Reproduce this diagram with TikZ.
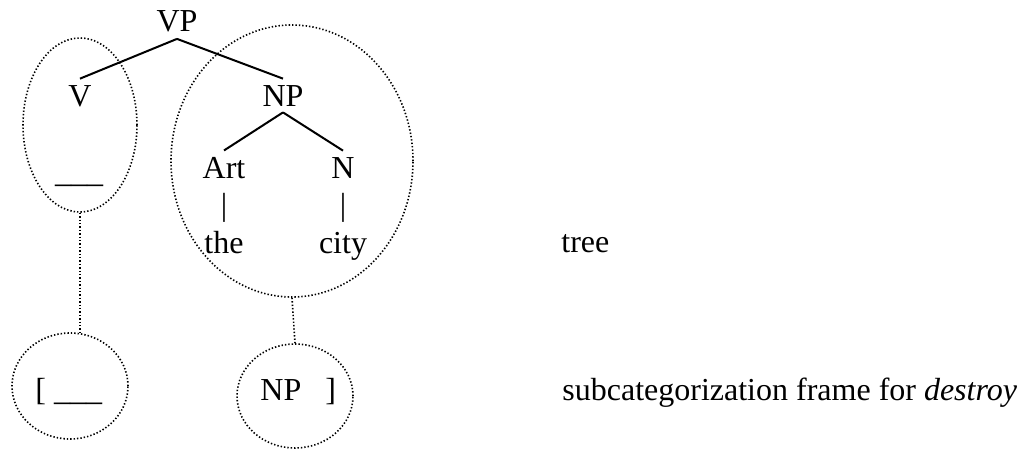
\documentclass[tikz,border=0pt]{standalone}
\usepackage{fontspec}
\setmainfont{Liberation Serif}
\usetikzlibrary{shapes.geometric}
\tikzset{
  cat/.style={anchor=base,inner sep=3pt},
  branch/.style={line width=1pt},
  ring/.style={ellipse,draw,inner sep=0pt,line width=0.8pt,dash pattern=on 0.7pt off 1pt},
  link/.style={line width=0.8pt,dash pattern=on 0.7pt off 1pt}
}
\begin{document}
\begin{tikzpicture}[x=0.5pt,y=-0.5pt,every node/.style={font=\fontsize{16}{19}\selectfont}]
\useasboundingbox (0,0) rectangle (1020,449);
\node[cat] (vp) at (177,32) {VP};
\node[cat] (v) at (80,106) {V};
\node[cat] (np) at (283,106) {NP};
\node[cat] (art) at (224,178) {Art};
\node[cat] (n) at (343,178) {N};
\node[cat] (gap) at (79,182) {\_\_\_};
\node[inner sep=0pt] (bara) at (224,207.5) {|};
\node[inner sep=0pt] (barn) at (343,207.5) {|};
\node[cat] (the) at (224,253) {the};
\node[cat] (city) at (343,253) {city};
\node[cat,anchor=base west,inner sep=0pt] (tree) at (561,252) {tree};
\node[cat,anchor=base west,inner sep=0pt] (frame) at (562,400) {subcategorization frame for \textit{destroy}};
\node[cat,anchor=base west,inner sep=0pt] (open) at (35,400) {[ \_\_\_};
\node[cat,anchor=base west,inner sep=0pt] (close) at (260,400) {NP\hspace{0.75em}]};
\node[ring,minimum width=57pt,minimum height=87pt] (vring) at (80,125) {};
\node[ring,minimum width=121pt,minimum height=136pt] (npring) at (292,161) {};
\node[ring,minimum width=58pt,minimum height=53pt] (vslot) at (70,386) {};
\node[ring,minimum width=58pt,minimum height=52pt] (npslot) at (295,396) {};
\draw[branch] (vp.south) -- (v.north);
\draw[branch] (vp.south) -- (np.north);
\draw[branch] (np.south) -- (art.north);
\draw[branch] (np.south) -- (n.north);
\draw[link] (vring.south) -- (vring.south |- vslot.north);
\draw[link] (npring.south) -- (npslot.north);
\end{tikzpicture}
\end{document}
